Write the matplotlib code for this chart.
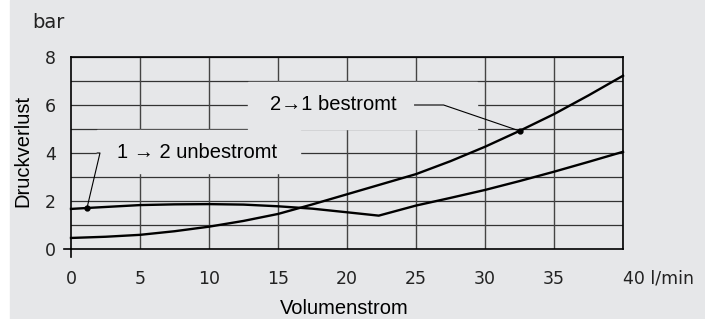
import matplotlib.pyplot as plt
from matplotlib.patches import Rectangle

# Volumenstrom (l/min) vs Druckverlust (bar)
flow_a = [0, 2.5, 5, 7.5, 10, 12.5, 15, 17.5, 20, 22.5, 25, 27.5, 30, 32.5, 35, 37.5, 40]
dp_a = [0.46, 0.51, 0.59, 0.74, 0.93, 1.17, 1.46, 1.86, 2.28, 2.70, 3.12, 3.66, 4.26, 4.92, 5.62, 6.40, 7.22]  # 2->1 bestromt

flow_b = [0, 1.2, 5, 7.5, 10, 12.5, 15, 17.5, 20, 22.3, 25, 27.5, 30, 32.5, 35, 37.5, 40]
dp_b = [1.67, 1.71, 1.83, 1.86, 1.87, 1.85, 1.78, 1.68, 1.53, 1.39, 1.81, 2.13, 2.46, 2.83, 3.22, 3.63, 4.05]  # 1->2 unbestromt

xticks = [0, 5, 10, 15, 20, 25, 30, 35, 40]
yticks = [0, 2, 4, 6, 8]

bg = '#e6e7e9'
fig = plt.figure(figsize=(7.05, 3.19), dpi=100)
fig.patch.set_facecolor('white')
fig.patches.append(Rectangle((10 / 705, 0), 1, 1, transform=fig.transFigure, color=bg, zorder=-10))

ax = fig.add_axes([71 / 705, 1 - 249 / 319, 552 / 705, 192 / 319])
ax.set_facecolor(bg)
ax.set_xlim(0, 40)
ax.set_ylim(0, 8)

# grid
for y in range(1, 9):
    ax.axhline(y, color='#333333', lw=0.9, zorder=1)
for x in xticks[1:]:
    ax.axvline(x, color='#444444', lw=1.0, zorder=1)
for s in ax.spines.values():
    s.set_linewidth(1.2)
    s.set_color('black')

# label boxes covering the grid
ax.add_patch(Rectangle((1.9, 3.18), 14.7, 1.78, color=bg, zorder=2))
ax.add_patch(Rectangle((12.8, 4.98), 16.6, 1.96, color=bg, zorder=2))

ax.plot(flow_a, dp_a, color='black', lw=1.7, zorder=4, clip_on=False)
ax.plot(flow_b, dp_b, color='black', lw=1.7, zorder=4, clip_on=False)

# labels with leaders
ax.text(9.1, 4.0, '1 → 2 unbestromt', fontsize=14.5, family='Liberation Sans',
        ha='center', va='center', zorder=5)
ax.plot([1.9, 2.1, 1.16], [4.0, 4.0, 1.71], color='black', lw=0.8, zorder=5)
ax.plot([1.16], [1.71], 'o', color='black', ms=3.5, zorder=6)

ax.text(19.0, 6.0, '2→1 bestromt', fontsize=14.5, family='Liberation Sans',
        ha='center', va='center', zorder=5)
ax.plot([24.9, 27.0, 32.5], [6.0, 6.0, 4.92], color='black', lw=0.8, zorder=5)
ax.plot([32.5], [4.92], 'o', color='black', ms=3.5, zorder=6)

# axis extensions at the origin
ax.plot([-0.5, 0], [0, 0], color='black', lw=1.2, clip_on=False)
ax.plot([0, 0], [-0.33, 0], color='black', lw=1.2, clip_on=False)

ax.set_xticks(xticks)
ax.set_yticks(yticks)
ax.tick_params(length=0, labelsize=12.5, colors='#222222')
ax.tick_params(axis='x', pad=15)
ax.tick_params(axis='y', pad=11)
ax.set_xticklabels([str(t) for t in xticks[:-1]] + ['40 l/min'])
last = ax.get_xticklabels()[-1]
last.set_ha('left')
last.set_x(40)

fig.text(32 / 705, 1 - 23 / 319, 'bar', fontsize=14, va='center', ha='left', color='#222222')
fig.text(23 / 705, 1 - 151 / 319, 'Druckverlust', fontsize=14.5, family='Liberation Sans',
         rotation=90, ha='center', va='center')
fig.text(344 / 705, 1 - 308 / 319, 'Volumenstrom', fontsize=14.5, family='Liberation Sans',
         ha='center', va='center')

fig.savefig('out.png', dpi=100, facecolor=fig.get_facecolor())
